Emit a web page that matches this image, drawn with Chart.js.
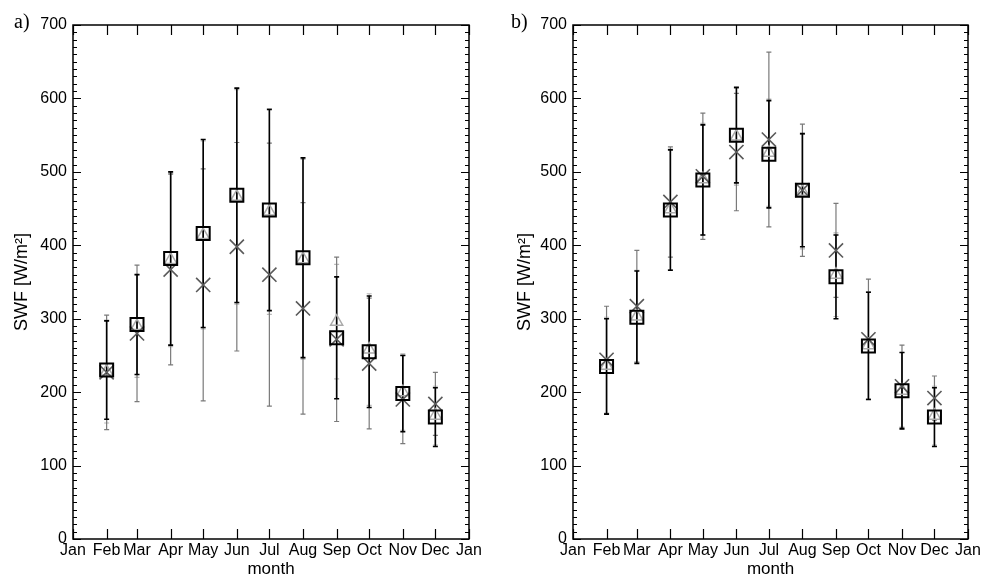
<!DOCTYPE html>
<html>
<head>
<meta charset="utf-8">
<script src="https://cdn.jsdelivr.net/npm/chart.js@4.4.1/dist/chart.umd.min.js"></script>
<style>
  body { margin: 0; background: #fff; }
  #wrap { position: relative; width: 982px; height: 588px; }
  canvas { position: absolute; top: 0; }
  #cA { left: 0; }
  #cB { left: 500px; }
  .tag { position: absolute; top: 11px; font-family: "Liberation Serif", serif; font-size: 20px; line-height: 20px; }
</style>
</head>
<body>
<div id="wrap">
  <canvas id="cA" width="500" height="588"></canvas>
  <canvas id="cB" width="482" height="588"></canvas>
  <div class="tag" style="left:14px">a)</div>
  <div class="tag" style="left:511px">b)</div>
</div>
<script>
const monthLabels = ["Jan", "Feb", "Mar", "Apr", "May", "Jun", "Jul", "Aug", "Sep", "Oct", "Nov", "Dec", "Jan"];
const monthDays = [0, 31, 59, 90, 120, 151, 181, 212, 243, 273, 304, 334, 365];
const pointMonths = ["Feb", "Mar", "Apr", "May", "Jun", "Jul", "Aug", "Sep", "Oct", "Nov", "Dec"];
const yTicks = [0, 100, 200, 300, 400, 500, 600, 700];

// panel a)
const squareA = [230, 292, 382, 416, 468, 448, 383, 274, 255, 198, 166];
const squareErrA = [67, 68, 118, 128, 146, 137, 136, 83, 76, 52, 40];
const crossA = [227, 280, 367, 346, 398, 360, 314, 272, 239, 190, 184];
const crossErrA = [78, 93, 130, 158, 142, 179, 144, 112, 89, 60, 43];
const triA = [228, 290, 380, 414, 466, 446, 381, 296, 258, 200, 168];
const triErrA = [70, 70, 118, 128, 146, 140, 136, 78, 76, 52, 40];

// panel b)
const squareB = [235, 302, 448, 489, 550, 524, 475, 357, 263, 202, 166];
const squareErrB = [65, 63, 82, 75, 65, 73, 77, 57, 73, 52, 40];
const crossB = [244, 317, 459, 494, 527, 544, 475, 393, 272, 208, 192];
const crossErrB = [73, 76, 75, 86, 80, 119, 90, 64, 82, 56, 30];
const triB = [236, 303, 449, 490, 548, 526, 473, 360, 264, 202, 168];
const triErrB = [66, 63, 82, 76, 66, 73, 78, 57, 73, 52, 40];

Chart.defaults.color = "#000";
Chart.defaults.font.family = "'Liberation Sans', Arial, sans-serif";
Chart.defaults.font.size = 16;

const pointDays = pointMonths.map(m => monthDays[monthLabels.indexOf(m)]);

function toPoints(vals) {
  return vals.map((v, i) => ({ x: pointDays[i], y: v }));
}

// vertical error bars with small caps, black drawn last
const errorBars = {
  id: "errorBars",
  beforeDatasetsDraw(chart) {
    const ctx = chart.ctx;
    const ys = chart.scales.y;
    for (let d = chart.data.datasets.length - 1; d >= 0; d--) {
      const ds = chart.data.datasets[d];
      const meta = chart.getDatasetMeta(d);
      ctx.save();
      ctx.strokeStyle = ds.barColor;
      ctx.lineWidth = ds.barWidth;
      meta.data.forEach((pt, i) => {
        const v = ds.data[i].y;
        const e = ds.errors[i];
        const y1 = ys.getPixelForValue(v - e);
        const y2 = ys.getPixelForValue(v + e);
        ctx.beginPath();
        ctx.moveTo(pt.x, y1); ctx.lineTo(pt.x, y2);
        ctx.moveTo(pt.x - 2.5, y1); ctx.lineTo(pt.x + 2.5, y1);
        ctx.moveTo(pt.x - 2.5, y2); ctx.lineTo(pt.x + 2.5, y2);
        ctx.stroke();
      });
      ctx.restore();
    }
  }
};

// box round the plot with inward ticks on all four sides
const frame = {
  id: "frame",
  afterDraw(chart) {
    const { ctx, chartArea: a } = chart;
    const xs = chart.scales.x, ys = chart.scales.y;
    ctx.save();
    ctx.strokeStyle = "#000";
    ctx.lineWidth = 1.5;
    ctx.strokeRect(a.left, a.top, a.right - a.left, a.bottom - a.top);
    ctx.lineWidth = 1.2;
    ctx.beginPath();
    for (let v = ys.min; v <= ys.max; v += 10) {
      const p = Math.round(ys.getPixelForValue(v)) + 0.5;
      const len = v % 100 === 0 ? 8 : 4;
      ctx.moveTo(a.left, p); ctx.lineTo(a.left + len, p);
      ctx.moveTo(a.right, p); ctx.lineTo(a.right - len, p);
    }
    monthDays.forEach(d => {
      const p = Math.round(xs.getPixelForValue(d)) + 0.5;
      ctx.moveTo(p, a.bottom); ctx.lineTo(p, a.bottom - 10);
      ctx.moveTo(p, a.top); ctx.lineTo(p, a.top + 10);
    });
    ctx.stroke();
    ctx.restore();
  }
};

function makeChart(id, padLeft, padRight, sq, sqErr, cr, crErr, tri, triErr) {
  return new Chart(document.getElementById(id), {
    type: "scatter",
    data: {
      datasets: [
        {
          data: toPoints(sq), errors: sqErr, barColor: "#000", barWidth: 1.6,
          pointStyle: "rect", pointRadius: 9.2, borderColor: "#000", borderWidth: 2,
          backgroundColor: "rgba(0,0,0,0)"
        },
        {
          data: toPoints(cr), errors: crErr, barColor: "#7a7a7a", barWidth: 1.2,
          pointStyle: "crossRot", pointRadius: 10, borderColor: "#5a5a5a", borderWidth: 1.6,
          backgroundColor: "rgba(0,0,0,0)"
        },
        {
          data: toPoints(tri), errors: triErr, barColor: "#b8b8b8", barWidth: 1.2,
          pointStyle: "triangle", pointRadius: 7, borderColor: "#aaa", borderWidth: 1.5,
          backgroundColor: "rgba(0,0,0,0)"
        }
      ]
    },
    options: {
      responsive: false,
      animation: false,
      events: [],
      layout: { padding: { left: padLeft, right: padRight, top: 25, bottom: 0 } },
      plugins: { legend: { display: false }, tooltip: { enabled: false } },
      scales: {
        x: {
          type: "linear", min: 0, max: 365,
          afterBuildTicks: s => { s.ticks = monthDays.map(v => ({ value: v })); },
          afterFit: s => { s.height = 49; s.paddingLeft = 0; s.paddingRight = 0; },
          grid: { display: false, drawTicks: false },
          border: { display: false },
          ticks: {
            autoSkip: false, maxRotation: 0, minRotation: 0, padding: 2,
            callback: (v, i) => monthLabels[i]
          },
          title: { display: true, text: "month", font: { size: 17 }, padding: { top: 0, bottom: 8 } }
        },
        y: {
          min: 0, max: 700,
          afterBuildTicks: s => { s.ticks = yTicks.map(v => ({ value: v })); },
          afterFit: s => { s.width = 73 - padLeft; s.paddingTop = 0; s.paddingBottom = 0; },
          grid: { display: false, drawTicks: false },
          border: { display: false },
          ticks: { padding: 6 },
          title: { display: true, text: "SWF [W/m²]", font: { size: 18 }, padding: 0 }
        }
      }
    },
    plugins: [errorBars, frame]
  });
}

makeChart("cA", 11, 31, squareA, squareErrA, crossA, crossErrA, triA, triErrA);
makeChart("cB", 14, 14, squareB, squareErrB, crossB, crossErrB, triB, triErrB);
</script>
</body>
</html>
